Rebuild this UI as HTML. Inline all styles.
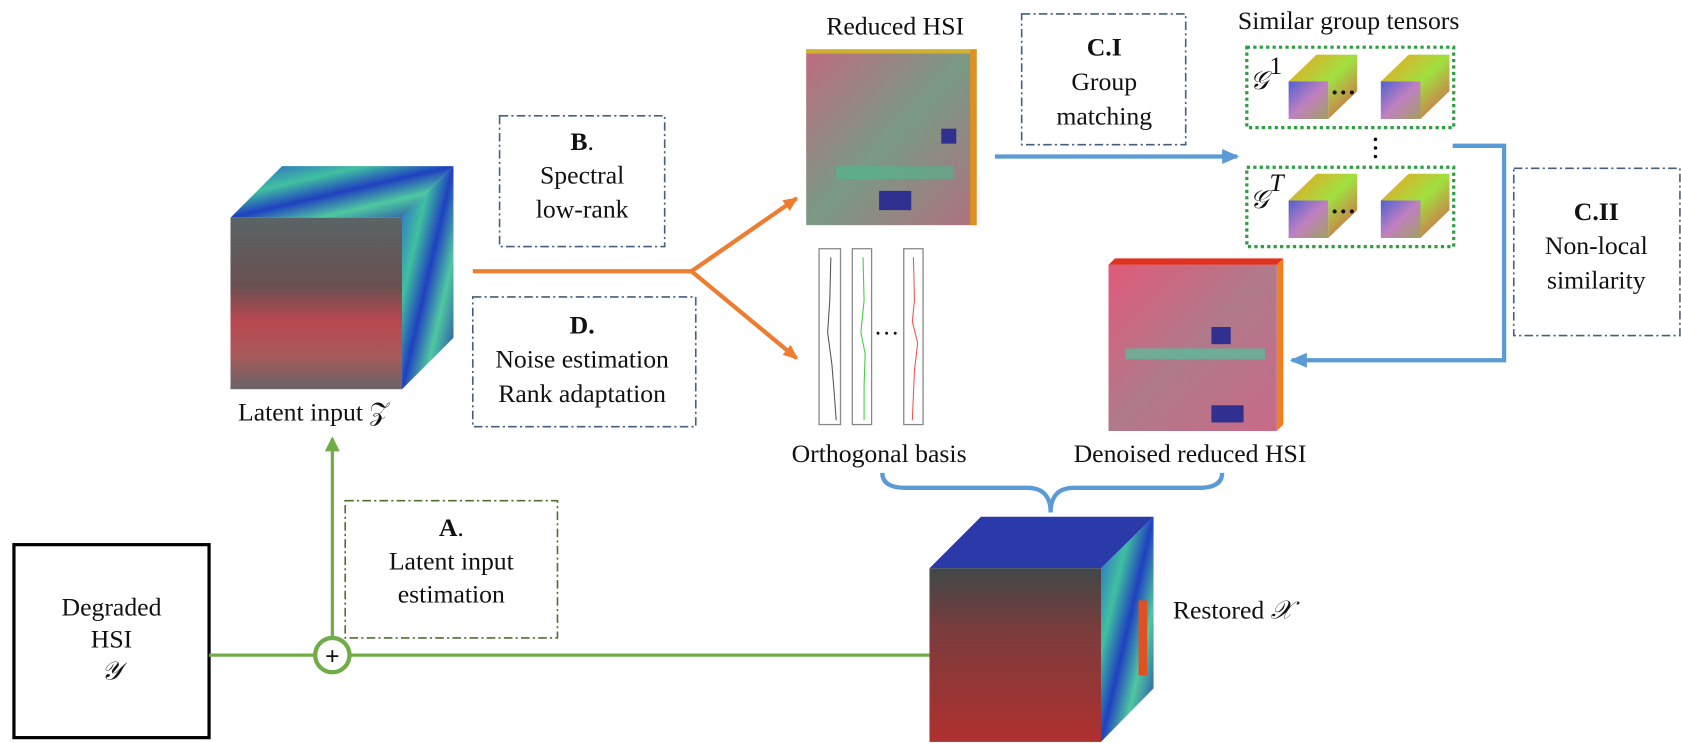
<!DOCTYPE html>
<html><head><meta charset="utf-8"><style>
body{margin:0;background:#fff}
svg{display:block}
text{font-family:"Liberation Serif",serif;font-size:24px;fill:#111}
</style></head><body>
<svg width="1681" height="743" viewBox="0 0 1568 693" preserveAspectRatio="none" xmlns="http://www.w3.org/2000/svg">
<defs>
<linearGradient id="red" x1="0" y1="0" x2="0" y2="1">
<stop offset="0" stop-color="#5a6466"/><stop offset="0.4" stop-color="#6a5050"/><stop offset="0.6" stop-color="#b84850"/><stop offset="0.8" stop-color="#a85a5a"/><stop offset="1" stop-color="#6a6468"/></linearGradient>
<linearGradient id="spec" x1="0" y1="0" x2="1" y2="1">
<stop offset="0" stop-color="#2a5ad0"/><stop offset="0.3" stop-color="#40c0a0"/><stop offset="0.5" stop-color="#2040c0"/><stop offset="0.7" stop-color="#50c8a0"/><stop offset="1" stop-color="#2030b0"/></linearGradient>
<linearGradient id="pink" x1="0" y1="0" x2="1" y2="1">
<stop offset="0" stop-color="#c06a80"/><stop offset="0.5" stop-color="#7a9a84"/><stop offset="1" stop-color="#b0707e"/></linearGradient>
<linearGradient id="den" x1="0" y1="0" x2="1" y2="1">
<stop offset="0" stop-color="#e05a7a"/><stop offset="0.5" stop-color="#b07a8a"/><stop offset="1" stop-color="#c86a88"/></linearGradient>
<linearGradient id="rest" x1="0" y1="0" x2="0" y2="1">
<stop offset="0" stop-color="#404848"/><stop offset="0.35" stop-color="#7a3c3c"/><stop offset="1" stop-color="#b03030"/></linearGradient>
<linearGradient id="patch" x1="0" y1="0" x2="1" y2="1">
<stop offset="0" stop-color="#f0a020"/><stop offset="0.5" stop-color="#a0e040"/><stop offset="1" stop-color="#e05050"/></linearGradient>
<linearGradient id="patchf" x1="0" y1="0" x2="1" y2="1">
<stop offset="0" stop-color="#5060d0"/><stop offset="0.5" stop-color="#c080c0"/><stop offset="1" stop-color="#a0a060"/></linearGradient>
<marker id="ao" markerWidth="14" markerHeight="12" refX="12" refY="6" orient="auto" markerUnits="userSpaceOnUse"><path d="M0,0 L14,6 L0,12 z" fill="#ed7d31"/></marker>
<marker id="ab" markerWidth="16" markerHeight="14" refX="14" refY="7" orient="auto" markerUnits="userSpaceOnUse"><path d="M0,0 L16,7 L0,14 z" fill="#5b9bd5"/></marker>
<marker id="ag" markerWidth="14" markerHeight="14" refX="12" refY="7" orient="auto" markerUnits="userSpaceOnUse"><path d="M0,0 L14,7 L0,14 z" fill="#70ad47"/></marker>
</defs>

<polygon points="215,203 263,155 423,155 375,203" fill="url(#spec)"/>
<polygon points="375,203 423,155 423,315 375,363" fill="url(#spec)"/>
<rect x="215" y="203" width="160" height="160" fill="url(#red)"/>
<text x="222" y="392">Latent input 𝒵</text>

<rect x="13" y="508" width="182" height="180" fill="none" stroke="#000" stroke-width="3"/>
<text x="104" y="574" text-anchor="middle">Degraded</text>
<text x="104" y="604" text-anchor="middle">HSI</text>
<text x="104" y="634" text-anchor="middle" font-style="italic">𝒴</text>

<line x1="195" y1="611" x2="867" y2="611" stroke="#70ad47" stroke-width="3"/>
<line x1="310" y1="595" x2="310" y2="409" stroke="#70ad47" stroke-width="3" marker-end="url(#ag)"/>
<circle cx="310" cy="611" r="16" fill="#fff" stroke="#70ad47" stroke-width="4"/>
<text x="310" y="620" text-anchor="middle" font-family="Liberation Sans" font-weight="bold" font-size="26">+</text>

<rect x="322" y="467" width="198" height="128" fill="none" stroke="#507030" stroke-width="1.5" stroke-dasharray="8,3,2,3"/>
<text x="421" y="500" text-anchor="middle"><tspan font-weight="bold">A</tspan>.</text>
<text x="421" y="531" text-anchor="middle">Latent input</text>
<text x="421" y="562" text-anchor="middle">estimation</text>

<rect x="466" y="108" width="154" height="122" fill="none" stroke="#44607e" stroke-width="1.5" stroke-dasharray="8,3,2,3"/>
<text x="543" y="140" text-anchor="middle"><tspan font-weight="bold">B</tspan>.</text>
<text x="543" y="171" text-anchor="middle">Spectral</text>
<text x="543" y="203" text-anchor="middle">low-rank</text>

<rect x="441" y="277" width="208" height="121" fill="none" stroke="#44607e" stroke-width="1.5" stroke-dasharray="8,3,2,3"/>
<text x="543" y="311" text-anchor="middle" font-weight="bold">D.</text>
<text x="543" y="343" text-anchor="middle">Noise estimation</text>
<text x="543" y="375" text-anchor="middle">Rank adaptation</text>

<polyline points="441,253 645,253 743,185" fill="none" stroke="#ed7d31" stroke-width="4" marker-end="url(#ao)"/>
<line x1="645" y1="253" x2="743" y2="334" stroke="#ed7d31" stroke-width="4" marker-end="url(#ao)"/>

<text x="835" y="32" text-anchor="middle">Reduced HSI</text>
<rect x="752" y="46" width="159" height="164" fill="url(#pink)"/>
<rect x="752" y="46" width="159" height="4" fill="#d0b030"/>
<rect x="905" y="46" width="6" height="164" fill="#e09020"/>
<rect x="780" y="155" width="110" height="12" fill="#40c090" opacity="0.5"/>
<rect x="820" y="178" width="30" height="18" fill="#303090"/>
<rect x="878" y="120" width="14" height="14" fill="#303090"/>

<g fill="none" stroke="#888" stroke-width="1.2">
<rect x="764" y="232" width="20" height="164"/>
<rect x="795" y="232" width="18" height="164"/>
<rect x="843" y="232" width="18" height="164"/>
</g>
<path d="M775,240 L774,280 L772,310 L776,340 L778,365 L780,392" stroke="#555" fill="none"/>
<path d="M805,240 L806,280 L803,310 L807,330 L806,360 L806,392" stroke="#4c4" fill="none"/>
<path d="M852,240 L853,280 L851,300 L856,320 L853,345 L851,392" stroke="#e55" fill="none"/>
<text x="827" y="312" text-anchor="middle" font-size="14">…</text>
<text x="820" y="431" text-anchor="middle">Orthogonal basis</text>

<rect x="953" y="13" width="153" height="122" fill="none" stroke="#44607e" stroke-width="1.5" stroke-dasharray="8,3,2,3"/>
<text x="1030" y="52" text-anchor="middle" font-weight="bold">C.I</text>
<text x="1030" y="84" text-anchor="middle">Group</text>
<text x="1030" y="116" text-anchor="middle">matching</text>
<line x1="928" y1="146" x2="1154" y2="146" stroke="#5b9bd5" stroke-width="4" marker-end="url(#ab)"/>

<text x="1258" y="27" text-anchor="middle">Similar group tensors</text>
<rect x="1163" y="44" width="193" height="75" fill="none" stroke="#2ca040" stroke-width="3" stroke-dasharray="3,3"/>
<rect x="1163" y="156" width="193" height="74" fill="none" stroke="#2ca040" stroke-width="3" stroke-dasharray="3,3"/>
<g transform="translate(0,-111)">
<text x="1166" y="194" font-style="italic" font-size="26">𝒢</text><text x="1184" y="180" font-size="14">1</text>
<polygon points="1228,162 1266,162 1266,196 1239,222 1239,187 1202,187" fill="url(#patch)"/>
<rect x="1202" y="187" width="37" height="35" fill="url(#patchf)"/>
<text x="1241" y="205" font-size="20" font-weight="bold">···</text>
<polygon points="1314,162 1352,162 1352,196 1325,222 1325,187 1288,187" fill="url(#patch)"/>
<rect x="1288" y="187" width="37" height="35" fill="url(#patchf)"/>
</g>
<g>
<text x="1166" y="194" font-style="italic" font-size="26">𝒢</text><text x="1184" y="178" font-size="14" font-style="italic">T</text>
<polygon points="1228,162 1266,162 1266,196 1239,222 1239,187 1202,187" fill="url(#patch)"/>
<rect x="1202" y="187" width="37" height="35" fill="url(#patchf)"/>
<text x="1241" y="205" font-size="20" font-weight="bold">···</text>
<polygon points="1314,162 1352,162 1352,196 1325,222 1325,187 1288,187" fill="url(#patch)"/>
<rect x="1288" y="187" width="37" height="35" fill="url(#patchf)"/>
</g>
<circle cx="1283" cy="130" r="1.6" fill="#000"/><circle cx="1283" cy="138" r="1.6" fill="#000"/><circle cx="1283" cy="146" r="1.6" fill="#000"/>

<polyline points="1355,136 1403,136 1403,336 1205,336" fill="none" stroke="#5b9bd5" stroke-width="4" marker-end="url(#ab)"/>
<rect x="1412" y="157" width="155" height="156" fill="none" stroke="#44607e" stroke-width="1.5" stroke-dasharray="8,3,2,3"/>
<text x="1489" y="205" text-anchor="middle" font-weight="bold">C.II</text>
<text x="1489" y="237" text-anchor="middle">Non-local</text>
<text x="1489" y="269" text-anchor="middle">similarity</text>

<polygon points="1034,247 1040,241 1197,241 1191,247" fill="#e03020"/>
<polygon points="1191,247 1197,241 1197,396 1191,402" fill="#f08020"/>
<rect x="1034" y="247" width="157" height="155" fill="url(#den)"/>
<rect x="1050" y="325" width="130" height="10" fill="#40d0a0" opacity="0.6"/>
<rect x="1130" y="305" width="18" height="16" fill="#303090"/>
<rect x="1130" y="378" width="30" height="16" fill="#303090"/>
<text x="1110" y="431" text-anchor="middle">Denoised reduced HSI</text>

<path d="M823,441 Q823,455 845,455 L958,455 Q980,455 980,478 Q980,455 1002,455 L1118,455 Q1140,455 1140,441" fill="none" stroke="#5b9bd5" stroke-width="4"/>

<polygon points="867,530 915,482 1076,482 1027,530" fill="#2a3aa8"/>
<polygon points="1027,530 1076,482 1076,642 1027,692" fill="url(#spec)"/>
<rect x="1062" y="560" width="8" height="70" fill="#e05020"/>
<rect x="867" y="530" width="160" height="162" fill="url(#rest)"/>
<text x="1094" y="577">Restored <tspan font-style="italic">𝒳</tspan></text>
</svg>
</body></html>
